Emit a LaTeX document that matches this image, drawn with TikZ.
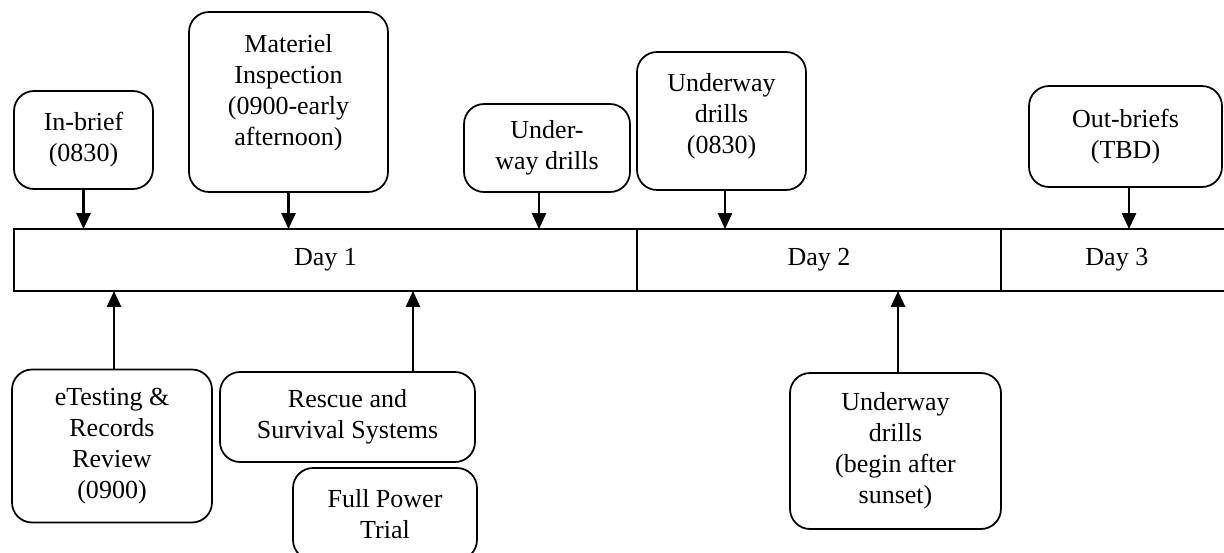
\documentclass[tikz,border=0pt]{standalone}
\usepackage{fontspec}
\setmainfont{Liberation Serif}
\usepackage{tikz}
\usetikzlibrary{arrows.meta, positioning}

\begin{document}
\begin{tikzpicture}[
    x=0.02cm, y=-0.02cm,
    every node/.style={font=\fontsize{14.8}{17.6}\selectfont},
    event/.style={draw, line width=1pt, rounded corners=0.4cm, align=center, inner sep=2pt},
    dayseg/.style={draw, line width=1pt, outer sep=0pt, minimum height=1.24cm},
    link/.style={line width=1.2pt, -{Triangle[width=8pt,length=9pt]}}
]

\useasboundingbox (0,0) rectangle (1224,552);
\clip (0,0) rectangle (1224,552);

% Timeline
\node[dayseg, minimum width=12.46cm] (day1) at (325.5,260) {Day 1};
\node[dayseg, minimum width=7.28cm, right=0pt of day1] (day2) {Day 2};
\node[dayseg, minimum width=4.64cm, right=0pt of day2] (day3) {Day 3};

% Events above the timeline
\node[event, minimum width=2.78cm, minimum height=1.96cm] (inbrief) at (83.5,140) {In-brief\\(0830)};
\node[event, minimum width=3.98cm, minimum height=3.6cm, text depth=14pt] (materiel) at (288.5,102) {Materiel\\Inspection\\(0900-early\\afternoon)};
\node[event, minimum width=3.32cm, minimum height=1.76cm] (uwdrills) at (547,148) {Under-\\way drills};
\node[event, minimum width=3.38cm, minimum height=2.76cm, text depth=9pt] (uwmorning) at (721.5,121) {Underway\\drills\\(0830)};
\node[event, minimum width=3.86cm, minimum height=2.02cm] (outbrief) at (1125.5,136.5) {Out-briefs\\(TBD)};

% Events below the timeline
\node[event, minimum width=4.0cm, minimum height=3.06cm] (etesting) at (112,446) {eTesting \&\\Records\\Review\\(0900)};
\node[event, minimum width=5.1cm, minimum height=1.8cm] (rescue) at (347.5,417) {Rescue and\\Survival Systems};
\node[event, minimum width=3.68cm, minimum height=1.84cm] (fullpower) at (385,514) {Full Power\\Trial};
\node[event, minimum width=4.22cm, minimum height=3.12cm] (uwnight) at (895.5,451) {Underway\\drills\\(begin after\\sunset)};

% Connectors
\draw[link] (inbrief.south) -- (inbrief.south |- day1.north);
\draw[link] (materiel.south) -- (materiel.south |- day1.north);
\draw[link] ([xshift=-0.16cm]uwdrills.south) -- ([xshift=-0.16cm]uwdrills.south |- day1.north);
\draw[link] ([xshift=0.07cm]uwmorning.south) -- ([xshift=0.07cm]uwmorning.south |- day2.north);
\draw[link] ([xshift=0.07cm]outbrief.south) -- ([xshift=0.07cm]outbrief.south |- day3.north);
\draw[link] ([xshift=0.04cm]etesting.north) -- ([xshift=0.04cm]etesting.north |- day1.south);
\draw[link] ([xshift=1.31cm]rescue.north) -- ([xshift=1.31cm]rescue.north |- day1.south);
\draw[link] ([xshift=0.05cm]uwnight.north) -- ([xshift=0.05cm]uwnight.north |- day2.south);

\end{tikzpicture}
\end{document}
